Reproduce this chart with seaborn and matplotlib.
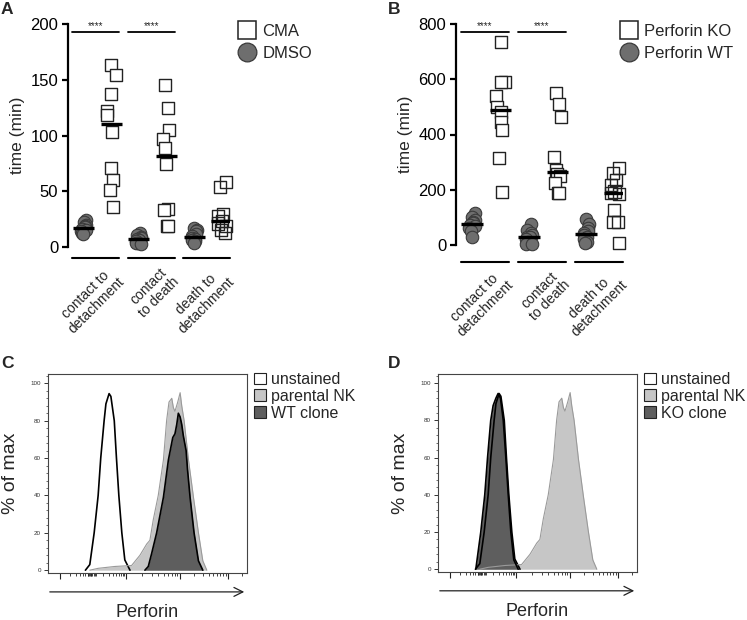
import numpy as np
import pandas as pd
import matplotlib
matplotlib.use('Agg')
import matplotlib.pyplot as plt
import matplotlib.transforms as mtransforms
from matplotlib.lines import Line2D
from matplotlib.patches import Patch
from matplotlib.ticker import MultipleLocator
import seaborn as sns

sns.set_theme(style='white')
plt.rcParams['font.family'] = ['Liberation Sans', 'DejaVu Sans']

# ---- panels A / B: time (min) per phase ----
phases = ['contact to\ndetachment', 'contact\nto death', 'death to\ndetachment']

dmso_c2det = [24, 22, 20, 19, 18, 16, 15, 14, 13, 12]
dmso_c2death = [13, 11, 9, 8, 7.5, 6.5, 5, 4, 3.5, 3]
dmso_d2det = [17, 15, 14, 12, 10, 8, 7, 6, 5, 4]
cma_c2det = [163, 154, 137, 122, 118.5, 103, 71, 60, 51, 36]
cma_c2death = [145, 124.5, 104.5, 97, 89, 74, 34, 33, 18.5, 18.5]
cma_d2det = [58, 54, 29.5, 28, 23, 21, 18.5, 15.5, 12.5]

wt_c2det = [115, 100, 92, 85, 78, 72, 68, 60, 50, 30]
wt_c2death = [75, 55, 45, 35, 30, 28, 20, 12, 5, 2]
wt_d2det = [95, 75, 60, 50, 44, 38, 30, 20, 12, 8]
ko_c2det = [734, 591, 591, 540, 498, 482, 446, 418, 316, 193]
ko_c2death = [549, 509, 464, 320, 272, 258, 250, 223, 187, 187]
ko_d2det = [278, 260, 236, 218, 194, 188, 185, 128, 82, 82, 7]

# ---- panels C / D: flow histograms (channel, % of max) ----
unstained_x = [188, 210, 232, 252, 265, 282, 291, 307, 316, 333, 344, 356, 371, 386, 412]
unstained_y = [0, 3, 20, 40, 60, 80, 89, 94.5, 93, 80, 60, 40, 20, 5.5, 0]
parental_x = [210, 252, 336, 420, 462, 496, 512, 529, 554, 580, 596, 608, 622, 630,
              638, 652, 664, 672, 684, 706, 731, 756, 778, 798]
parental_y = [0, 1, 2, 2.5, 8, 14, 16, 27, 40, 59, 80, 90, 92, 87,
              85, 90, 95, 88, 80, 59, 39, 20, 5, 0]
wt_clone_x = [487, 504, 521, 546, 580, 605, 627, 638, 647, 655, 664, 672, 680, 694,
              701, 714, 734, 756, 778]
wt_clone_y = [0, 2, 9, 20, 39, 59, 71, 73, 78, 84, 82, 78, 72, 64,
              54, 39, 20, 5, 0]
ko_clone_x = [190, 215, 235, 249, 265, 277, 291, 302, 314, 328, 341, 353, 366, 381, 403]
ko_clone_y = [0, 20, 40, 60, 80, 88, 92, 94.5, 92, 80, 60, 40, 20, 5, 0]

CIRCLE_FC = '#6e6e6e'
CIRCLE_EC = '#3a3a3a'
SQUARE_EC = '#222222'
LIGHT = '#c6c6c6'
DARK = '#5e5e5e'

W, H = 747, 620


def long_table(groups):
    """groups: list of (group name, [values per phase])"""
    rows = []
    for gname, series in groups:
        for phase, vals in zip(phases, series):
            for v in vals:
                rows.append({'phase': phase, 'group': gname, 'time': v,
                             'key': phase + '|' + gname})
    return pd.DataFrame(rows)


def dot_panel(ax, df, filled, hollow, yticks, sig_y, ylim, line_y, label_y):
    order = []
    for p in phases:
        order += [p + '|' + filled, p + '|' + hollow]

    np.random.seed(4)
    sns.stripplot(data=df[df.group == filled], x='key', y='time', order=order, ax=ax,
                  jitter=0.1, size=9, marker='o', color=CIRCLE_FC,
                  edgecolor=CIRCLE_EC, linewidth=0.8, clip_on=False, zorder=3)
    sns.stripplot(data=df[df.group == hollow], x='key', y='time', order=order, ax=ax,
                  jitter=0.2, size=8.8, marker='s', color='white',
                  edgecolor=SQUARE_EC, linewidth=1.0, clip_on=False, zorder=3)
    ax.collections[-1].set_facecolor('none')

    med = df.groupby('key')['time'].median()
    for i, k in enumerate(order):
        ax.hlines(med[k], i - 0.38, i + 0.38, color='black', lw=2.4, zorder=5)

    ax.set_xlim(-0.56, 5.3)
    ax.set_ylim(*ylim)
    ax.set_yticks(yticks)
    ax.set_xticks([])
    ax.set_xlabel('')
    ax.set_ylabel('time (min)', fontsize=12.5, labelpad=4)
    for s in ['top', 'right', 'bottom']:
        ax.spines[s].set_visible(False)
    ax.spines['left'].set_linewidth(1.6)
    ax.spines['left'].set_color('black')
    ax.tick_params(axis='y', direction='out', length=4, width=1.6, labelsize=12,
                   pad=3, colors='black', left=True)

    trans = mtransforms.blended_transform_factory(ax.transData, ax.transAxes)
    for j, p in enumerate(phases):
        c = 2 * j + 0.45
        ax.plot([c - 0.85, c + 0.85], [line_y, line_y], color='black', lw=1.5,
                transform=trans, clip_on=False)
        ax.text(c + 0.38, label_y, p, transform=trans, rotation=45, ha='right',
                va='top', rotation_mode='anchor', multialignment='center',
                fontsize=10, linespacing=1.05)
    for j in range(2):
        c = 2 * j + 0.45
        ax.plot([c - 0.85, c + 0.85], [sig_y, sig_y], color='black', lw=1.3,
                clip_on=False)
        ax.text(c, sig_y + ylim[1] * 0.004, '****', ha='center', va='bottom',
                fontsize=7)


def biex_ticks():
    zero = 225
    majors = [60, 392, 663, 904]
    k = np.log10(np.arange(2, 10))
    minors = list(60 + (zero - 60) * k) + list(zero + (392 - zero) * k)
    minors += list(392 + 271 * k) + list(663 + 241 * k) + [904 + 241 * np.log10(2)]
    minors += [200, 207, 214, 221, 229, 236, 243]
    return majors, minors


def flow_panel(ax, clone_x, clone_y, clone_label, legend_xy):
    samples = [(unstained_x, unstained_y, 'white', 'black', 1.2),
               (parental_x, parental_y, LIGHT, '#9a9a9a', 0.8),
               (clone_x, clone_y, DARK, 'black', 1.2)]
    for xs, ys, fc, ec, lw in samples:
        ax.fill_between(xs, ys, 0, color=fc, lw=0)
        sns.lineplot(x=xs, y=ys, ax=ax, color=ec, lw=lw, sort=False,
                     estimator=None)
    ax.set_xlim(0, 1000)
    ax.set_ylim(-1.5, 105)
    majors, minors = biex_ticks()
    ax.set_xticks(majors)
    ax.set_xticks(minors, minor=True)
    ax.set_yticks([0, 20, 40, 60, 80, 100])
    ax.yaxis.set_minor_locator(MultipleLocator(4))
    ax.tick_params(axis='x', which='major', direction='out', length=4, width=0.8,
                   labelbottom=False, bottom=True, colors='#222')
    ax.tick_params(axis='x', which='minor', direction='out', length=2, width=0.6,
                   bottom=True, colors='#222')
    ax.tick_params(axis='y', which='major', direction='out', length=3, width=0.7,
                   labelsize=4.5, left=True, colors='#333', pad=2)
    ax.tick_params(axis='y', which='minor', direction='out', length=1.5, width=0.5,
                   left=True, colors='#333')
    for s in ax.spines.values():
        s.set_visible(True)
        s.set_linewidth(0.8)
        s.set_color('#444')
    ax.set_xlabel('')
    ax.set_ylabel('')
    ax.text(-0.186, 0.5, '% of max', transform=ax.transAxes, rotation=90,
            ha='center', va='center', fontsize=14)
    ax.annotate('', xy=(1.0, -0.095), xytext=(-0.005, -0.095),
                xycoords='axes fraction',
                arrowprops=dict(arrowstyle='->', lw=0.9, color='#222',
                                mutation_scale=16))
    ax.text(0.5, -0.2, 'Perforin', transform=ax.transAxes, ha='center',
            va='center', fontsize=13)
    handles = [Patch(facecolor='white', edgecolor='#222', lw=0.8),
               Patch(facecolor=LIGHT, edgecolor='#222', lw=0.8),
               Patch(facecolor=DARK, edgecolor='#222', lw=0.8)]
    ax.legend(handles, ['unstained', 'parental NK', clone_label], loc='upper left',
              bbox_to_anchor=legend_xy, bbox_transform=ax.figure.transFigure,
              frameon=False, fontsize=11.5, handlelength=0.75, handleheight=0.75,
              handletextpad=0.3, labelspacing=0.12, borderpad=0, borderaxespad=0)


fig = plt.figure(figsize=(W / 100, H / 100), dpi=100)

axA = fig.add_axes([68 / W, 1 - 247 / H, (230 - 68) / W, (247 - 24) / H])
axB = fig.add_axes([456 / W, 1 - 245 / H, (623 - 456) / W, (245 - 24) / H])
axC = fig.add_axes([48 / W, 1 - 573 / H, 199 / W, 199 / H])
axD = fig.add_axes([438 / W, 1 - 572 / H, 199 / W, 198 / H])

dfA = long_table([('DMSO', [dmso_c2det, dmso_c2death, dmso_d2det]),
                  ('CMA', [cma_c2det, cma_c2death, cma_d2det])])
dfB = long_table([('Perforin WT', [wt_c2det, wt_c2death, wt_d2det]),
                  ('Perforin KO', [ko_c2det, ko_c2death, ko_d2det])])

dot_panel(axA, dfA, 'DMSO', 'CMA', [0, 50, 100, 150, 200], 193, (0, 200),
          -0.049, -0.076)
dot_panel(axB, dfB, 'Perforin WT', 'Perforin KO', [0, 200, 400, 600, 800], 770,
          (0, 800), -0.075, -0.102)


def dot_legend(ax, labels, xy):
    handles = [Line2D([], [], ls='none', marker='s', markersize=13, mfc='white',
                      mec=SQUARE_EC, mew=1.1),
               Line2D([], [], ls='none', marker='o', markersize=13.5, mfc=CIRCLE_FC,
                      mec=CIRCLE_EC, mew=0.9)]
    ax.legend(handles, labels, loc='upper left', bbox_to_anchor=xy,
              bbox_transform=fig.transFigure, frameon=False, fontsize=12,
              handlelength=1.0, handletextpad=0.4, labelspacing=0.4,
              borderpad=0, borderaxespad=0)


dot_legend(axA, ['CMA', 'DMSO'], (239 / W, 1 - 24 / H))
dot_legend(axB, ['Perforin KO', 'Perforin WT'], (621 / W, 1 - 24 / H))

flow_panel(axC, wt_clone_x, wt_clone_y, 'WT clone', (254 / W, 1 - 372 / H))
flow_panel(axD, ko_clone_x, ko_clone_y, 'KO clone', (644 / W, 1 - 372 / H))

for letter, x, y in [('A', 1, 2), ('B', 388, 2), ('C', 1, 356), ('D', 388, 356)]:
    fig.text(x / W, 1 - y / H, letter, fontsize=12.5, fontweight='bold',
             ha='left', va='top')

fig.savefig('out.png', dpi=100)
